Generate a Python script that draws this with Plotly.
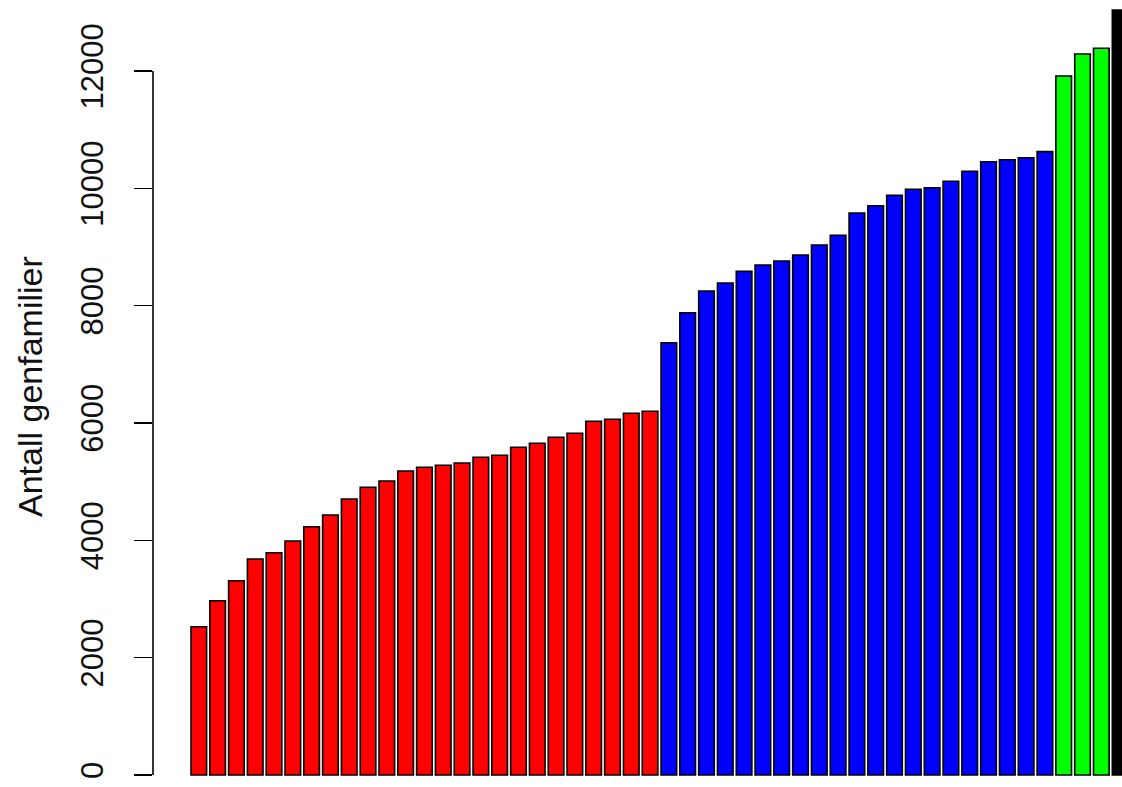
import plotly.graph_objects as go

red_values = [2528, 2971, 3312, 3682, 3789, 3989, 4232, 4432, 4705, 4904,
              5011, 5182, 5245, 5279, 5318, 5415, 5449, 5586, 5654, 5756,
              5824, 6029, 6063, 6165, 6199]
blue_values = [7369, 7880, 8250, 8386, 8585, 8693, 8761, 8864, 9034, 9199,
               9580, 9704, 9881, 9983, 10011, 10120, 10290, 10454, 10488, 10522,
               10625]
green_values = [11915, 12290, 12387]
black_values = [13040]

y_ticks = [0, 2000, 4000, 6000, 8000, 10000, 12000]
y_label = "Antall genfamilier"

groups = [
    (red_values, "#FF0000"),
    (blue_values, "#0000FF"),
    (green_values, "#00FF00"),
    (black_values, "#000000"),
]

fig = go.Figure()
start = 0
for vals, col in groups:
    xs = list(range(start, start + len(vals)))
    fig.add_trace(go.Bar(
        x=xs, y=vals, width=0.83,
        marker=dict(color=col, line=dict(color="#000000", width=1.6)),
        showlegend=False, hoverinfo="skip",
    ))
    start += len(vals)

fig.update_layout(
    width=1122, height=787,
    margin=dict(l=153, r=0, t=0, b=0),
    paper_bgcolor="white", plot_bgcolor="white",
    font=dict(family="Arial, Liberation Sans, sans-serif", color="#000000"),
    xaxis=dict(range=[-2.436, 49.1], visible=False, fixedrange=True),
    yaxis=dict(
        range=[-204.5, 13210],
        tickvals=y_ticks,
        ticktext=[str(v) for v in y_ticks],
        tickangle=-90,
        ticks="outside", ticklen=18, tickwidth=1.6, tickcolor="#000000",
        tickfont=dict(size=31, color="#111111"),
        showgrid=False, zeroline=False, showline=False,
        ticklabelstandoff=19, fixedrange=True,
    ),
    shapes=[dict(type="line", xref="paper", yref="y", x0=0, x1=0,
                 y0=y_ticks[0], y1=y_ticks[-1],
                 line=dict(color="#000000", width=1.6))],
    annotations=[dict(text=y_label, xref="paper", yref="paper",
                      x=-123 / 969, y=1 - 387 / 787, textangle=-90,
                      showarrow=False, xanchor="center", yanchor="middle",
                      font=dict(size=34, color="#111111"))],
)

fig.write_html(
    "out.html",
    config={"displayModeBar": False, "staticPlot": True},
    post_script="document.body.style.margin='0';document.body.style.overflow='hidden';",
)
